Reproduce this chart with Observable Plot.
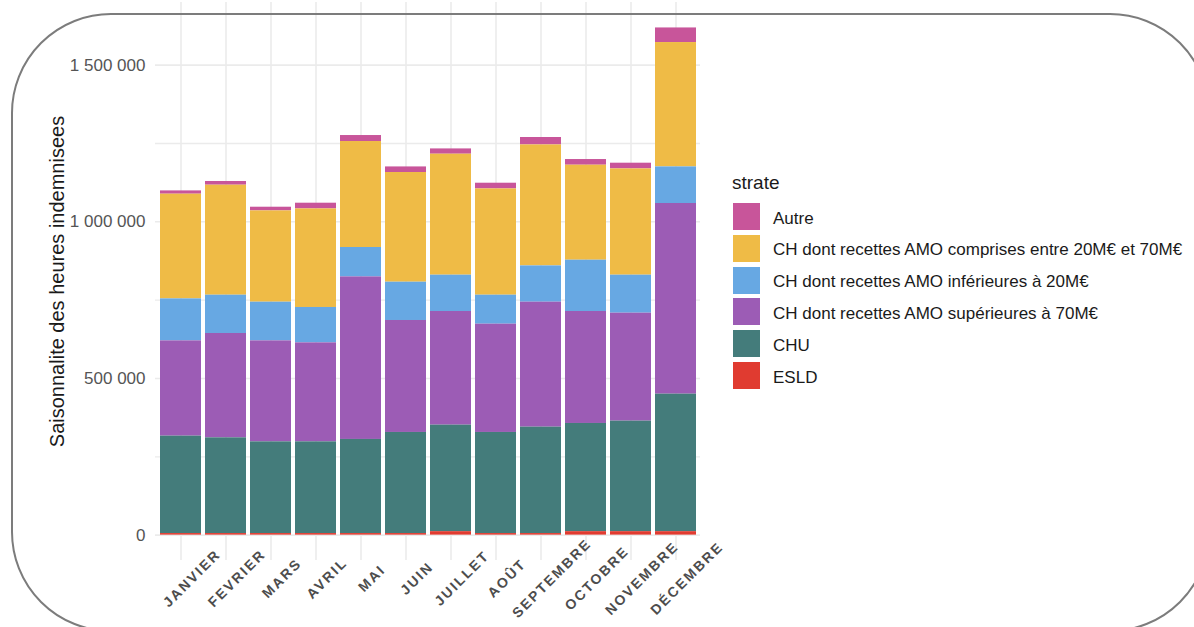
<!DOCTYPE html>
<html>
<head>
<meta charset="utf-8">
<script src="https://cdn.jsdelivr.net/npm/d3@7"></script>
<script src="https://cdn.jsdelivr.net/npm/@observablehq/plot@0.6"></script>
<style>
  html, body { margin: 0; padding: 0; background: #fff; }
  body { width: 1194px; height: 627px; overflow: hidden; position: relative; font-family: "Liberation Sans", Arial, sans-serif; }
  #frame { position: absolute; left: 11px; top: 13px; width: 1199px; height: 619px; box-sizing: border-box; border: 2px solid #7c7c7c; border-radius: 100px; pointer-events: none; }
  #chart { position: absolute; left: 0; top: 0; }
  #chart g[aria-label="x-axis tick label"] text { letter-spacing: 2px; }
  #legend { position: absolute; left: 732px; top: 0; width: 460px; height: 627px; color: #1a1a1a; }
  #legend .title { position: absolute; left: 0; top: 172px; font-size: 19px; line-height: 22px; }
  #legend .row { position: absolute; left: 1px; height: 27px; display: flex; align-items: center; }
  #legend .sw { width: 27px; height: 27px; flex: none; }
  #legend .lab { margin-left: 13px; font-size: 17px; line-height: 20px; white-space: nowrap; position: relative; top: 2px; }
</style>
</head>
<body>
<div id="chart"></div>
<div id="legend"></div>
<div id="frame"></div>
<script>
// ---- data ----
const months = ["JANVIER","FEVRIER","MARS","AVRIL","MAI","JUIN","JUILLET","AOÛT","SEPTEMBRE","OCTOBRE","NOVEMBRE","DÉCEMBRE"];
const strata = [
  "Autre",
  "CH dont recettes AMO comprises entre 20M€ et 70M€",
  "CH dont recettes AMO inférieures à 20M€",
  "CH dont recettes AMO supérieures à 70M€",
  "CHU",
  "ESLD"
];
const strataColors = ["#c8559a", "#efbb46", "#67a8e3", "#9c5cb5", "#447c7b", "#e03b30"];
const autre       = [10500, 11800, 11700, 18200, 19100, 17800, 16900, 18200, 23700, 18100, 18200, 46600];
const comprises   = [334200, 351100, 291400, 314600, 338300, 350100, 386100, 339200, 386100, 303200, 339200, 396900];
const inferieures = [134000, 122200, 123500, 113000, 93800, 122200, 115900, 92500, 115800, 163700, 121300, 116800];
const superieures = [304100, 333100, 322300, 315900, 518800, 357400, 362800, 345600, 398900, 357400, 344600, 608600];
const chu         = [310900, 305500, 292700, 292700, 300400, 322700, 340000, 322700, 339600, 345400, 352800, 438900];
const esld        = [5000, 5000, 5000, 5000, 5000, 5000, 11000, 5000, 5000, 11000, 11000, 11000];
const yTicks      = [0, 500000, 1000000, 1500000];
const yMinorTicks = [250000, 750000, 1250000];
const yTitle = "Saisonnalite des heures indemnisees";
const legendTitle = "strate";

// ---- table for Plot ----
const series = [autre, comprises, inferieures, superieures, chu, esld];
const rows = [];
months.forEach((m, i) => {
  strata.forEach((s, j) => rows.push({month: m, strate: s, value: series[j][i]}));
});
const stackOrder = strata.slice().reverse(); // ESLD at the bottom, Autre on top

const fmt = d3.formatLocale({decimal: ",", thousands: " ", grouping: [3], currency: ["", " €"]}).format(",d");

const plot = Plot.plot({
  width: 1194,
  height: 627,
  marginLeft: 155,
  marginRight: 494,
  marginTop: 2,
  marginBottom: 67,
  style: {fontFamily: '"Liberation Sans", Arial, sans-serif', background: "transparent"},
  x: {type: "band", domain: months, padding: 0.1, label: null},
  y: {domain: [-81000, 1700000], nice: false, label: null},
  color: {domain: strata, range: strataColors},
  marks: [
    Plot.ruleY(yMinorTicks, {stroke: "#ebebeb", strokeWidth: 1.3}),
    Plot.ruleY(yTicks, {stroke: "#ebebeb", strokeWidth: 1.6}),
    Plot.ruleX(months, {x: d => d, stroke: "#ebebeb", strokeWidth: 1.6}),
    Plot.barY(rows, {x: "month", y: "value", fill: "strate", order: stackOrder}),
    Plot.axisY({ticks: yTicks, tickFormat: fmt, tickSize: 0, tickPadding: 10, fontSize: 17, color: "#555555", label: null}),
    Plot.axisX({tickSize: 0, tickRotate: -45, textAnchor: "middle", lineAnchor: "middle", tickPadding: 18, dx: 11, fontSize: 14, fontWeight: "bold", color: "#4d4d4d", label: null}),
    Plot.text([yTitle], {frameAnchor: "left", textAnchor: "middle", lineAnchor: "middle", rotate: -90, dx: -98, fontSize: 20, fill: "#1a1a1a"})
  ]
});
document.getElementById("chart").appendChild(plot);

// ---- legend ----
const legend = document.getElementById("legend");
const t = document.createElement("div");
t.className = "title";
t.textContent = legendTitle;
legend.appendChild(t);
const colorScale = plot.scale("color");
strata.forEach((s, i) => {
  const row = document.createElement("div");
  row.className = "row";
  row.style.top = (203 + i * 31.8) + "px";
  const sw = document.createElement("div");
  sw.className = "sw";
  sw.style.background = colorScale.apply(s);
  const lab = document.createElement("div");
  lab.className = "lab";
  lab.textContent = s;
  row.appendChild(sw);
  row.appendChild(lab);
  legend.appendChild(row);
});
</script>
</body>
</html>
